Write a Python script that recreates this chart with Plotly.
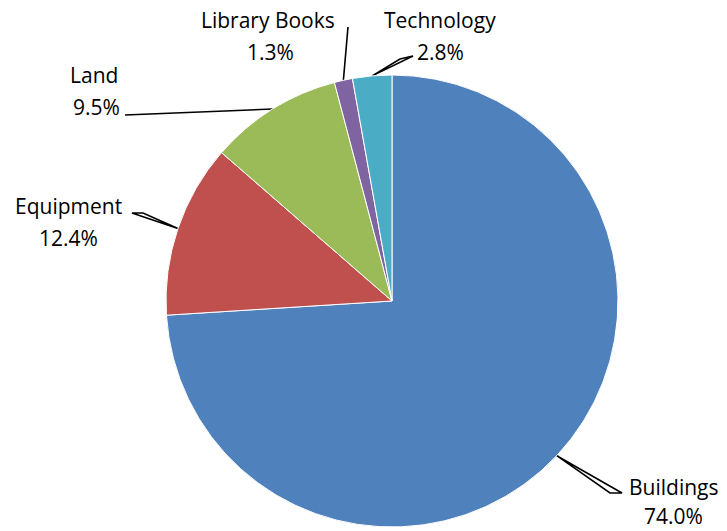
import math
import plotly.graph_objects as go

# ---- data ----
categories = ["Buildings", "Equipment", "Land", "Library Books", "Technology"]
shares = [74.0, 12.4, 9.5, 1.3, 2.8]
colors = ["#4F81BD", "#C0504D", "#9BBB59", "#8064A2", "#4BACC6"]

# ---- layout / style ----
W, H = 727, 531
CX, CY, R = 392, 301, 226          # pie centre & radius in pixels
FONT = "Open Sans"
FS = 21

# label placement per category (pixels): name centre, pct centre, leader tip(s)
label_style = {
    "Buildings":     dict(name=(674, 487), pct=(673, 516), tips=[(610, 493), (622, 493)]),
    "Equipment":     dict(name=(68, 206),  pct=(68, 238),  tips=[(132, 213), (143, 213)]),
    "Land":          dict(name=(94, 75),   pct=(96, 107),  tips=[(125, 115)]),
    "Library Books": dict(name=(268, 20),  pct=(270, 52),  tips=[(348, 27)]),
    "Technology":    dict(name=(440, 20),  pct=(440, 52),  tips=[(400, 59), (413, 56)]),
}

fig = go.Figure()

fig.add_trace(go.Pie(
    labels=categories, values=shares, sort=False, direction="clockwise",
    rotation=0, marker=dict(colors=colors, line=dict(color="white", width=1)),
    textinfo="none", hoverinfo="label+percent", showlegend=False,
    domain=dict(x=[(CX - R) / W, (CX + R) / W],
                y=[(H - CY - R) / H, (H - CY + R) / H]),
))

# leader lines, anchored at each slice's mid-angle on the rim
total = sum(shares)
cum = 0.0
annotations = []
for cat, v in zip(categories, shares):
    mid = (cum + v / 2) / total * 2 * math.pi
    cum += v
    ax = CX + R * math.sin(mid)
    ay = CY - R * math.cos(mid)
    st = label_style[cat]
    xs, ys = [ax], [ay]
    for t in st["tips"]:
        xs.append(t[0]); ys.append(t[1])
    if len(st["tips"]) > 1:
        xs.append(ax); ys.append(ay)
    fig.add_trace(go.Scatter(x=xs, y=ys, mode="lines",
                             line=dict(color="black", width=1.6),
                             hoverinfo="skip", showlegend=False))
    annotations.append(dict(x=st["name"][0], y=st["name"][1], text=cat,
                            xref="x", yref="y", showarrow=False,
                            font=dict(family=FONT, size=FS, color="black")))
    annotations.append(dict(x=st["pct"][0], y=st["pct"][1], text=f"{v:.1f}%",
                            xref="x", yref="y", showarrow=False,
                            font=dict(family=FONT, size=FS, color="black")))

fig.update_layout(
    width=W, height=H, margin=dict(l=0, r=0, t=0, b=0),
    paper_bgcolor="white", plot_bgcolor="rgba(0,0,0,0)",
    xaxis=dict(range=[0, W], visible=False, fixedrange=True),
    yaxis=dict(range=[H, 0], visible=False, fixedrange=True),
    annotations=annotations,
)

fig.write_html("out.html",
               config={"displayModeBar": False},
               post_script="document.body.style.margin='0';"
                           "document.body.style.overflow='hidden';")
